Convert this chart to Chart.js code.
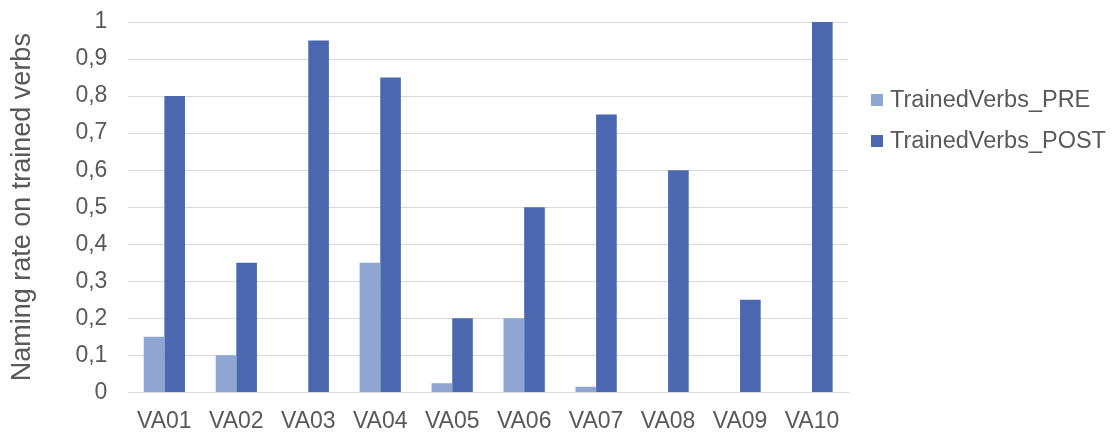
<!DOCTYPE html>
<html>
<head>
<meta charset="utf-8">
<script src="https://cdn.jsdelivr.net/npm/chart.js@4/dist/chart.umd.min.js"></script>
<style>
  html, body { margin: 0; padding: 0; background: #fff; }
  #wrap { width: 1118px; height: 434px; position: relative; }
</style>
</head>
<body>
<div id="wrap"><canvas id="c"></canvas></div>
<script>
const categories = ['VA01', 'VA02', 'VA03', 'VA04', 'VA05', 'VA06', 'VA07', 'VA08', 'VA09', 'VA10'];
const trainedPre = [0.15, 0.10, 0, 0.35, 0.025, 0.20, 0.015, 0, 0, 0];
const trainedPost = [0.80, 0.35, 0.95, 0.85, 0.20, 0.50, 0.75, 0.60, 0.25, 1.00];
const yTicks = [0, 0.1, 0.2, 0.3, 0.4, 0.5, 0.6, 0.7, 0.8, 0.9, 1];

const textColor = '#595959';
const gridColor = '#d9d9d9';
const font = 'Liberation Sans, Arial, sans-serif';

// Legend drawn to the right of the plot, one row per dataset
const sideLegend = {
  id: 'sideLegend',
  afterDraw(chart) {
    const ctx = chart.ctx;
    const x0 = chart.chartArea.right + 23;
    const y0 = 100;
    const rowGap = 41;
    ctx.save();
    ctx.font = '23.5px ' + font;
    ctx.textBaseline = 'middle';
    ctx.textAlign = 'left';
    chart.data.datasets.forEach((ds, i) => {
      const y = y0 + i * rowGap;
      ctx.fillStyle = ds.backgroundColor;
      ctx.fillRect(x0, y - 6, 12, 12);
      ctx.fillStyle = textColor;
      ctx.fillText(ds.label, x0 + 19, y + 1);
    });
    ctx.restore();
  }
};

new Chart(document.getElementById('c'), {
  type: 'bar',
  data: {
    labels: categories,
    datasets: [
      { label: 'TrainedVerbs_PRE', data: trainedPre, backgroundColor: '#8FA5D2' },
      { label: 'TrainedVerbs_POST', data: trainedPost, backgroundColor: '#4A67AF' }
    ]
  },
  options: {
    responsive: true,
    maintainAspectRatio: false,
    animation: false,
    layout: { padding: { top: 22, right: 270, bottom: -8, left: 6 } },
    datasets: { bar: { categoryPercentage: 0.573, barPercentage: 1.0 } },
    plugins: {
      tooltip: { enabled: false },
      legend: { display: false }
    },
    scales: {
      x: {
        grid: { display: false },
        border: { display: true, color: gridColor, width: 1 },
        ticks: { color: textColor, font: { family: font, size: 23 }, padding: 7 }
      },
      y: {
        min: 0,
        max: 1,
        afterBuildTicks: (axis) => { axis.ticks = yTicks.map(v => ({ value: v })); },
        afterFit: (axis) => { axis.paddingTop = 0; axis.paddingBottom = 0; },
        grid: { color: gridColor, drawTicks: false, lineWidth: 1 },
        border: { display: false },
        ticks: {
          color: textColor,
          font: { family: font, size: 23 },
          padding: 21,
          callback: (v) => String(Math.round(v * 10) / 10).replace('.', ',')
        },
        title: {
          display: true,
          text: 'Naming rate on trained verbs',
          color: textColor,
          font: { family: font, size: 27 },
          padding: { top: 0, bottom: 16 }
        }
      }
    }
  },
  plugins: [sideLegend]
});
</script>
</body>
</html>
